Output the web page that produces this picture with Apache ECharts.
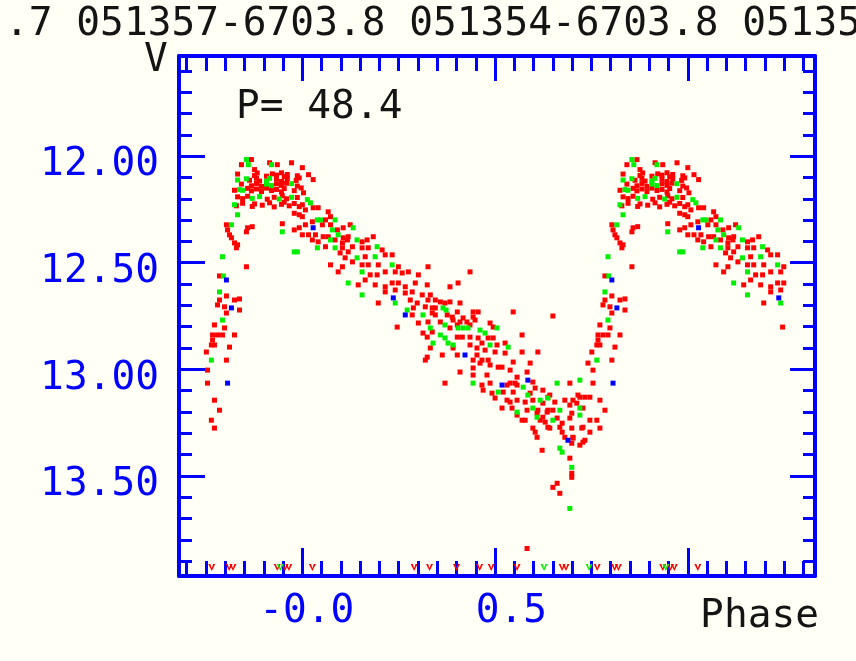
<!DOCTYPE html>
<html>
<head>
<meta charset="utf-8">
<script src="https://cdn.jsdelivr.net/npm/echarts/dist/echarts.min.js"></script>
<style>
  html, body { margin: 0; padding: 0; background: #fffff6; }
  #chart { width: 856px; height: 661px; }
</style>
</head>
<body>
<div id="chart"></div>
<script>
// Folded light curve, V band, period 48.4 d. Points are [phase, magnitude], phase in [0,1).
const headerText = '.7 051357-6703.8 051354-6703.8 05135';
const periodText = 'P= 48.4';
const yName = 'V';
const xName = 'Phase';

const xTickValues = [0, 0.5];
const xTickLabels = ['-0.0', '0.5'];
const yTickValues = [12, 12.5, 13, 13.5];
const yTickLabels = ['12.00', '12.50', '13.00', '13.50'];

const redObs = [
  [0.000,12.054],[0.016,12.087],[0.028,12.110],[0.003,12.172],[0.000,12.228],[0.028,12.242],[0.041,12.242],[0.067,12.261],
  [0.008,12.252],[0.000,12.284],[0.060,12.299],[0.073,12.284],[0.026,12.308],[0.008,12.322],[0.052,12.322],[0.073,12.322],
  [0.091,12.346],[0.106,12.336],[0.124,12.322],[0.000,12.369],[0.016,12.369],[0.034,12.369],[0.054,12.378],[0.067,12.378],
  [0.106,12.383],[0.119,12.378],[0.026,12.393],[0.041,12.402],[0.085,12.393],[0.104,12.407],[0.117,12.393],[0.155,12.402],
  [0.168,12.393],[0.184,12.378],[0.060,12.425],[0.104,12.430],[0.130,12.425],[0.155,12.430],[0.171,12.430],[0.207,12.440],
  [0.098,12.454],[0.119,12.449],[0.163,12.472],[0.215,12.463],[0.233,12.463],[0.111,12.477],[0.130,12.496],[0.073,12.510],
  [0.104,12.519],[0.155,12.510],[0.171,12.510],[0.197,12.510],[0.249,12.519],[0.326,12.519],[0.093,12.543],[0.176,12.557],
  [0.194,12.557],[0.215,12.543],[0.241,12.543],[0.259,12.548],[0.275,12.543],[0.301,12.557],[0.145,12.604],[0.163,12.581],
  [0.189,12.604],[0.215,12.613],[0.233,12.595],[0.249,12.595],[0.267,12.613],[0.293,12.595],[0.324,12.604],[0.215,12.637],
  [0.241,12.628],[0.267,12.642],[0.285,12.637],[0.311,12.651],[0.332,12.651],[0.280,12.675],[0.298,12.689],[0.326,12.675],
  [0.197,12.689],[0.288,12.712],[0.319,12.707],[0.337,12.712],[0.285,12.745],[0.337,12.736],[0.246,12.802],[0.301,12.783],
  [0.326,12.778],[0.313,12.830],[0.337,12.825],[0.324,12.849],
  [0.435,12.543],[0.404,12.595],[0.383,12.613],[0.345,12.675],[0.358,12.684],[0.370,12.689],[0.383,12.684],[0.409,12.689],
  [0.345,12.712],[0.402,12.731],[0.443,12.731],[0.456,12.731],[0.547,12.731],[0.345,12.745],[0.376,12.745],[0.389,12.755],
  [0.417,12.759],[0.443,12.755],[0.650,12.750],[0.358,12.778],[0.391,12.769],[0.409,12.778],[0.427,12.778],[0.448,12.769],
  [0.402,12.792],[0.435,12.792],[0.487,12.783],[0.383,12.806],[0.495,12.802],[0.402,12.849],[0.415,12.849],[0.435,12.849],
  [0.456,12.853],[0.482,12.853],[0.495,12.853],[0.435,12.886],[0.466,12.877],[0.505,12.886],[0.332,12.900],[0.391,12.900],
  [0.453,12.900],[0.474,12.910],[0.500,12.919],[0.324,12.943],[0.363,12.933],[0.402,12.933],[0.453,12.933],[0.319,12.957],
  [0.443,12.957],[0.466,12.957],[0.482,12.957],[0.409,13.013],[0.443,12.994],[0.461,12.971],[0.487,12.980],[0.508,12.990],
  [0.443,13.027],[0.479,13.027],[0.370,13.065],[0.466,13.074],[0.487,13.065],[0.469,13.098],[0.492,13.112],[0.500,13.135],
  [0.767,12.839],[0.780,12.839],[0.793,12.839],[0.824,12.839],[0.767,12.863],[0.764,12.886],[0.772,12.886],[0.811,12.896],
  [0.751,12.919],[0.803,12.957],[0.741,12.971],[0.754,13.004],[0.754,13.065],[0.746,13.131],[0.733,13.131],[0.720,13.131],
  [0.712,13.159],[0.772,13.145],[0.785,13.192],[0.728,13.182],[0.746,13.239],[0.764,13.239],[0.728,13.272],[0.772,13.276],
  [0.746,13.295],[0.733,13.333],[0.702,13.319],[0.720,13.356],[0.570,12.839],[0.526,12.877],[0.526,12.924],[0.570,12.919],
  [0.611,12.919],[0.547,12.966],[0.591,12.971],[0.518,12.990],[0.539,13.004],[0.583,13.013],[0.557,13.037],[0.598,13.060],
  [0.694,13.065],[0.531,13.074],[0.552,13.065],[0.624,13.098],[0.521,13.107],[0.547,13.107],[0.642,13.121],[0.715,13.121],
  [0.598,13.145],[0.681,13.145],[0.702,13.145],[0.557,13.145],[0.539,13.154],[0.578,13.154],[0.624,13.159],[0.655,13.154],
  [0.694,13.168],[0.518,13.182],[0.544,13.182],[0.583,13.192],[0.611,13.192],[0.637,13.192],[0.650,13.192],[0.699,13.206],
  [0.557,13.215],[0.624,13.225],[0.661,13.229],[0.694,13.229],[0.570,13.239],[0.578,13.239],[0.617,13.239],[0.598,13.276],
  [0.642,13.276],[0.699,13.276],[0.725,13.276],[0.604,13.295],[0.674,13.295],[0.609,13.319],[0.681,13.319],[0.702,13.323],
  [0.728,13.342],[0.699,13.347],[0.622,13.380],[0.694,13.417],[0.699,13.488],[0.699,13.507],[0.661,13.535],[0.650,13.554],
  [0.668,13.582],[0.539,13.065],[0.557,13.074],[0.604,13.088],[0.637,13.131],[0.591,13.112],[0.531,13.145],[0.609,13.206],
  [0.635,13.201],[0.668,13.272],[0.637,13.272],[0.674,13.253],[0.630,13.248],[0.583,13.841],
  [0.868,12.016],[0.842,12.040],[0.876,12.063],[0.915,12.031],[0.935,12.040],[0.972,12.031],
  [0.832,12.084],[0.876,12.091],[0.883,12.079],[0.907,12.094],[0.922,12.083],[0.933,12.089],[0.946,12.078],[0.953,12.096],
  [0.961,12.086],[0.987,12.092],
  [0.863,12.113],[0.881,12.104],[0.889,12.117],[0.933,12.108],[0.946,12.119],[0.961,12.105],[0.984,12.114],[0.992,12.102],
  [0.842,12.131],[0.868,12.139],[0.881,12.128],[0.894,12.142],[0.933,12.130],[0.946,12.137],[0.959,12.127],[0.987,12.140],
  [0.824,12.160],[0.858,12.151],[0.868,12.163],[0.881,12.154],[0.894,12.166],[0.907,12.150],[0.920,12.161],[0.933,12.156],
  [0.946,12.168],[0.953,12.152],[0.979,12.162],[0.997,12.149],
  [0.832,12.191],[0.845,12.199],[0.858,12.188],[0.909,12.202],[0.927,12.193],[0.948,12.186],[0.959,12.200],[0.987,12.194],
  [0.829,12.233],[0.845,12.221],[0.870,12.236],[0.876,12.224],[0.896,12.230],[0.915,12.219],[0.927,12.238],[0.946,12.226],
  [0.953,12.216],[0.966,12.233],[0.979,12.222],[0.992,12.237],[0.992,12.275],[0.979,12.268],
  [0.803,12.322],[0.806,12.346],[0.811,12.369],[0.816,12.383],[0.824,12.407],[0.832,12.416],[0.829,12.430],
  [0.858,12.336],[0.870,12.331],[0.855,12.355],[0.948,12.317],[0.979,12.346],[0.992,12.336],
  [0.855,12.519],[0.785,12.562],[0.785,12.675],[0.803,12.656],[0.824,12.675],[0.837,12.670],[0.780,12.698],[0.798,12.707],
  [0.803,12.736],[0.837,12.722],[0.772,12.792],[0.798,12.806]
];

const greenObs = [
  [0.013,12.204],[0.021,12.219],[0.039,12.299],[0.047,12.299],[0.085,12.299],[0.078,12.346],[0.132,12.336],[0.093,12.369],
  [0.073,12.393],[0.142,12.393],[0.039,12.430],[0.085,12.430],[0.194,12.425],[0.142,12.477],[0.189,12.472],[0.233,12.510],
  [0.155,12.543],[0.119,12.595],[0.155,12.651],[0.241,12.689],[0.272,12.722],[0.313,12.745],[0.332,12.806],
  [0.365,12.712],[0.373,12.722],[0.370,12.792],[0.404,12.806],[0.417,12.806],[0.430,12.806],[0.461,12.816],[0.505,12.806],
  [0.358,12.839],[0.370,12.853],[0.474,12.830],[0.339,12.877],[0.378,12.877],[0.391,12.886],[0.487,12.886],[0.443,13.065],
  [0.508,13.107],
  [0.534,12.896],[0.764,12.957],[0.720,13.051],[0.661,13.065],[0.573,13.084],[0.585,13.121],[0.617,13.145],[0.637,13.135],
  [0.598,13.182],[0.668,13.192],[0.720,13.182],[0.557,13.201],[0.609,13.225],[0.650,13.239],[0.720,13.215],[0.668,13.370],
  [0.674,13.389],[0.699,13.460],[0.694,13.653],
  [0.855,12.016],[0.860,12.040],[0.920,12.040],[0.832,12.112],[0.855,12.106],[0.907,12.118],[0.915,12.104],[0.907,12.131],
  [0.920,12.138],[0.972,12.129],[0.837,12.157],[0.845,12.160],[0.870,12.198],[0.889,12.190],[0.940,12.201],[0.972,12.193],
  [0.824,12.228],[0.832,12.275],[0.816,12.322],[0.948,12.355],[0.979,12.449],[0.987,12.449],[0.793,12.472],[0.795,12.562],
  [0.785,12.637],[0.793,12.769]
];

const blueObs = [
  [0.028,12.336],[0.236,12.665],[0.267,12.745],[0.422,12.933],[0.585,13.051],[0.518,13.074],[0.806,13.065],[0.689,13.333],
  [0.803,12.581],[0.816,12.712]
];

// Non-detections (fainter than the limit), drawn at the bottom of the frame
const limitMag = 13.93;
const redLimitPhases = [0.026, 0.29, 0.33, 0.40, 0.46, 0.49, 0.557, 0.674, 0.684, 0.765, 0.81, 0.82, 0.935, 0.955, 0.965];
const greenLimitPhases = [0.627, 0.744, 0.943];

const X_MIN = -0.32, X_MAX = 1.33;
const Y_MIN = 11.53, Y_MAX = 13.97;
// phases are repeated over this window
const FOLD_MIN = -0.25, FOLD_MAX = 1.25;
const BLUE = '#0000ff';
const INK = '#141414';
const MONO = '"DejaVu Sans Mono", monospace';
const FS = 39.5;

// Repeat each phase one cycle left and right where it falls inside the window
function fold(points) {
  const out = [];
  points.forEach(([p, m]) => {
    [-1, 0, 1].forEach(k => {
      const q = p + k;
      if (q >= FOLD_MIN && q <= FOLD_MAX) out.push([q, m]);
    });
  });
  return out;
}
function steps(from, to, step) {
  const out = [];
  const n = Math.round((to - from) / step);
  for (let i = 0; i <= n; i++) out.push(+(from + i * step).toFixed(4));
  return out;
}
function labelFor(values, labels, v) {
  const i = values.findIndex(t => Math.abs(t - v) < 1e-9);
  return i < 0 ? '' : labels[i];
}

const xMajor = [0, 0.5, 1.0];
const xMinor = steps(-0.3, 1.3, 0.05);
const yMajor = yTickValues;
const yMinor = steps(11.6, 13.9, 0.1);

function axisBase(extra) {
  return Object.assign({
    type: 'value',
    splitLine: { show: false },
    axisLabel: { show: false },
    axisLine: { show: false, onZero: false }
  }, extra);
}

const xAxes = [
  axisBase({
    position: 'bottom', min: X_MIN, max: X_MAX,
    axisLine: { show: true, onZero: false, lineStyle: { color: BLUE, width: 4 } },
    axisTick: { show: true, inside: true, length: 28, customValues: xMajor, lineStyle: { color: BLUE, width: 3 } },
    axisLabel: {
      show: true, customValues: xTickValues, margin: 16, align: 'left',
      formatter: v => '{t|' + labelFor(xTickValues, xTickLabels, v) + '}',
      rich: { t: { width: 52, align: 'right', fontFamily: MONO, fontSize: FS, color: BLUE } }
    }
  }),
  axisBase({
    position: 'bottom', min: X_MIN, max: X_MAX,
    axisTick: { show: true, inside: true, length: 15, customValues: xMinor, lineStyle: { color: BLUE, width: 3 } }
  }),
  axisBase({
    position: 'top', min: X_MIN, max: X_MAX,
    axisLine: { show: true, onZero: false, lineStyle: { color: BLUE, width: 4 } },
    axisTick: { show: true, inside: true, length: 25, customValues: xMajor, lineStyle: { color: BLUE, width: 3 } }
  }),
  axisBase({
    position: 'top', min: X_MIN, max: X_MAX,
    axisTick: { show: true, inside: true, length: 15, customValues: xMinor, lineStyle: { color: BLUE, width: 3 } }
  })
];

const yAxes = [
  axisBase({
    position: 'left', min: Y_MIN, max: Y_MAX, inverse: true,
    axisLine: { show: true, onZero: false, lineStyle: { color: BLUE, width: 4 } },
    axisTick: { show: true, inside: true, length: 26, customValues: yMajor, lineStyle: { color: BLUE, width: 3 } },
    axisLabel: {
      show: true, customValues: yTickValues, margin: 20,
      formatter: v => '{t|' + labelFor(yTickValues, yTickLabels, v) + '}',
      rich: { t: { padding: [18, 0, 0, 0], fontFamily: MONO, fontSize: FS, color: BLUE } }
    }
  }),
  axisBase({
    position: 'left', min: Y_MIN, max: Y_MAX, inverse: true,
    axisTick: { show: true, inside: true, length: 13, customValues: yMinor, lineStyle: { color: BLUE, width: 3 } }
  }),
  axisBase({
    position: 'right', min: Y_MIN, max: Y_MAX, inverse: true,
    axisLine: { show: true, onZero: false, lineStyle: { color: BLUE, width: 4 } },
    axisTick: { show: true, inside: true, length: 25, customValues: yMajor, lineStyle: { color: BLUE, width: 3 } }
  }),
  axisBase({
    position: 'right', min: Y_MIN, max: Y_MAX, inverse: true,
    axisTick: { show: true, inside: true, length: 12, customValues: yMinor, lineStyle: { color: BLUE, width: 3 } }
  })
];

function pointSeries(name, data, color) {
  return {
    name, type: 'scatter', xAxisIndex: 0, yAxisIndex: 0,
    data: fold(data), symbol: 'rect', symbolSize: 5,
    itemStyle: { color, opacity: 1 }, silent: true, animation: false
  };
}
function limitSeries(name, phases, color) {
  return {
    name, type: 'scatter', xAxisIndex: 0, yAxisIndex: 0,
    data: fold(phases.map(p => [p, limitMag])),
    symbol: 'path://M0,0 L3,0 L5,6 L7,0 L10,0 L5,10 Z', symbolSize: [7, 7],
    itemStyle: { color, opacity: 1 }, silent: true, animation: false
  };
}

const chart = echarts.init(document.getElementById('chart'), null, { renderer: 'canvas' });
chart.setOption({
  backgroundColor: '#fffff6',
  animation: false,
  grid: { left: 179, right: 41, top: 56, bottom: 85, containLabel: false },
  xAxis: xAxes,
  yAxis: yAxes,
  series: [
    pointSeries('red', redObs, '#ff0000'),
    pointSeries('green', greenObs, '#00ee00'),
    pointSeries('blue', blueObs, '#0000ff'),
    limitSeries('red limits', redLimitPhases, '#ff0000'),
    limitSeries('green limits', greenLimitPhases, '#00ee00')
  ],
  graphic: [
    { type: 'text', x: 5, y: 25, style: { text: headerText, font: FS + 'px ' + MONO, fill: INK, align: 'left', verticalAlign: 'middle' } },
    { type: 'text', x: 236, y: 108, style: { text: periodText, font: FS + 'px ' + MONO, fill: INK, align: 'left', verticalAlign: 'middle' } },
    { type: 'text', x: 156, y: 61, style: { text: yName, font: FS + 'px ' + MONO, fill: INK, align: 'center', verticalAlign: 'middle' } },
    { type: 'text', x: 819, y: 617, style: { text: xName, font: FS + 'px ' + MONO, fill: INK, align: 'right', verticalAlign: 'middle' } }
  ]
});
</script>
</body>
</html>
